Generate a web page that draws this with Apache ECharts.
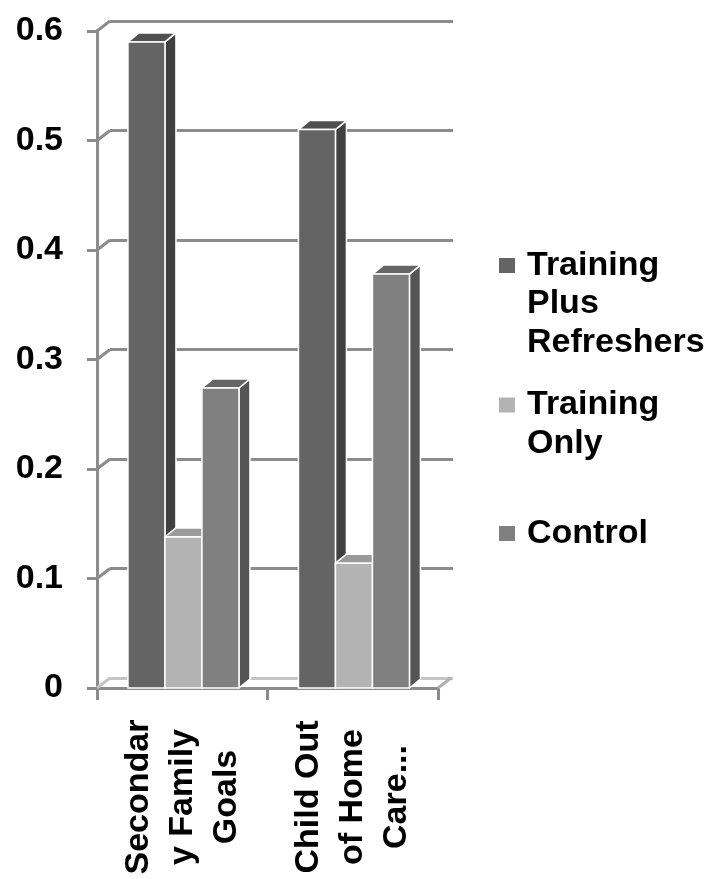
<!DOCTYPE html>
<html>
<head>
<meta charset="utf-8">
<script src="https://cdn.jsdelivr.net/npm/echarts@6/dist/echarts.min.js"></script>
<style>
html,body{margin:0;padding:0;background:#fff;}
#chart{width:712px;height:879px;}
</style>
</head>
<body>
<div id="chart"></div>
<script>
// ---- data ----
var categories = ['Secondar\ny Family\nGoals', 'Child Out\nof Home\nCare...'];
var seriesNames = ['Training Plus Refreshers', 'Training Only', 'Control'];
var legendLabels = ['Training\nPlus\nRefreshers', 'Training\nOnly', 'Control'];
var trainingPlusRefreshers = [0.59, 0.51];
var trainingOnly = [0.138, 0.114];
var control = [0.274, 0.378];
var yTicks = [0, 0.1, 0.2, 0.3, 0.4, 0.5, 0.6];

var seriesValues = [trainingPlusRefreshers, trainingOnly, control];
var faceColors = [
  {front: '#646464', side: '#404040', top: '#505050'},
  {front: '#b3b3b3', side: '#8a8a8a', top: '#9a9a9a'},
  {front: '#808080', side: '#555555', top: '#656565'}
];

var FONT = 'Liberation Sans, Arial, Helvetica, sans-serif';
var FS = 34;
var DX = 11, DY = -9;       // bar depth
var WX = 13, WY = -10;      // wall depth
var GRID_COLOR = '#8c8c8c';

function barRender(k) {
  return function (params, api) {
    var ci = api.value(0), v = api.value(1);
    var base = api.coord([ci, 0]);
    var top = api.coord([ci, v]);
    var cw = api.size([1, 0])[0];
    var bw = cw * 0.217;
    var x0 = base[0] - 1.5 * bw + k * bw + cw * 0.007;
    var x1 = x0 + bw;
    var yb = base[1], yt = top[1];
    var c = faceColors[k];
    var stroke = {stroke: '#ffffff', lineWidth: 1.5, lineJoin: 'round'};
    return {
      type: 'group',
      children: [
        {type: 'polygon', shape: {points: [[x1, yt], [x1 + DX, yt + DY], [x1 + DX, yb + DY], [x1, yb]]},
          style: Object.assign({fill: c.side}, stroke)},
        {type: 'polygon', shape: {points: [[x0, yt], [x0 + DX, yt + DY], [x1 + DX, yt + DY], [x1, yt]]},
          style: Object.assign({fill: c.top}, stroke)},
        {type: 'rect', shape: {x: x0, y: yt, width: bw, height: yb - yt},
          style: Object.assign({fill: c.front}, stroke)}
      ]
    };
  };
}

var series = seriesValues.map(function (vals, k) {
  return {
    type: 'custom',
    name: seriesNames[k],
    xAxisIndex: 0, yAxisIndex: 0,
    itemStyle: {color: faceColors[k].front},
    renderItem: barRender(k),
    encode: {x: 0, y: 1},
    data: vals.map(function (v, i) { return [i, v]; }),
    z: 5,
    silent: true
  };
});

// wall connectors (front tick -> back gridline) and floor side
series.push({
  type: 'custom',
  xAxisIndex: 0, yAxisIndex: 0,
  silent: true,
  z: 1,
  encode: {x: 0, y: 1},
  data: yTicks.map(function (t) { return [0, t]; }),
  renderItem: function (params, api) {
    var p = api.coord([0, api.value(1)]);
    var cw = api.size([1, 0])[0];
    var xl = p[0] - cw / 2;
    var children = [
      {type: 'line', shape: {x1: xl, y1: p[1], x2: xl + WX, y2: p[1] + WY},
        style: {stroke: api.value(1) === 0 ? '#c4c4c4' : GRID_COLOR, lineWidth: 3}}
    ];
    if (api.value(1) === 0) {
      var xr = xl + cw * categories.length;
      children.push({type: 'line', shape: {x1: xr, y1: p[1], x2: xr + WX, y2: p[1] + WY},
        style: {stroke: '#b0b0b0', lineWidth: 3}});
    }
    return {type: 'group', children: children};
  }
});

var LH = 38.5;
var iconCenters = [265.5, 405, 533.5];

var option = {
  backgroundColor: '#ffffff',
  animation: false,
  grid: [
    {left: 97, top: 31, width: 341, height: 657, containLabel: false},
    {left: 110, top: 21, width: 343, height: 657, containLabel: false}
  ],
  xAxis: [
    {
      type: 'category', gridIndex: 0, data: categories,
      boundaryGap: true,
      axisLine: {show: true, lineStyle: {color: GRID_COLOR, width: 3}},
      axisTick: {show: true, length: 12, interval: 0, alignWithLabel: false, lineStyle: {color: GRID_COLOR, width: 3}},
      axisLabel: {
        interval: 0, rotate: 90, align: 'center', verticalAlign: 'middle', margin: 109,
        fontFamily: FONT, fontWeight: 'bold', fontSize: FS, lineHeight: 44, color: '#000'
      },
      splitLine: {show: false}
    },
    {type: 'category', gridIndex: 1, data: categories, show: false}
  ],
  yAxis: [
    {
      type: 'value', gridIndex: 0, min: 0, max: 0.6, interval: 0.1,
      axisLine: {show: true, lineStyle: {color: GRID_COLOR, width: 3}},
      axisTick: {show: true, length: 10, lineStyle: {color: GRID_COLOR, width: 3}},
      axisLabel: {
        margin: 34, fontFamily: FONT, fontWeight: 'bold', fontSize: FS, color: '#000',
        formatter: function (v) { return String(Math.round(v * 10) / 10); }
      },
      splitLine: {show: false}
    },
    {
      type: 'value', gridIndex: 1, min: 0, max: 0.6, interval: 0.1,
      axisLine: {show: false}, axisTick: {show: false}, axisLabel: {show: false},
      splitLine: {show: true, lineStyle: {width: 3,
        color: ['#c4c4c4', GRID_COLOR, GRID_COLOR, GRID_COLOR, GRID_COLOR, GRID_COLOR, GRID_COLOR]}}
    }
  ],
  legend: legendLabels.map(function (lbl, i) {
    var n = lbl.split('\n').length;
    var lead = '';
    for (var j = 0; j < n - 1; j++) lead += ' \n';
    return {
      data: [seriesNames[i]],
      orient: 'vertical',
      left: 499,
      top: iconCenters[i] - (2 * n - 1) * LH / 2,
      padding: 0,
      itemWidth: 16, itemHeight: 15,
      icon: 'rect',
      selectedMode: false,
      formatter: function () { return lead + lbl; },
      textStyle: {
        fontFamily: FONT, fontWeight: 'bold', fontSize: FS, lineHeight: LH, color: '#000',
        padding: [0, 0, 0, 7]
      }
    };
  }),
  series: series
};

var chart = echarts.init(document.getElementById('chart'), null, {renderer: 'canvas'});
chart.setOption(option);
</script>
</body>
</html>
